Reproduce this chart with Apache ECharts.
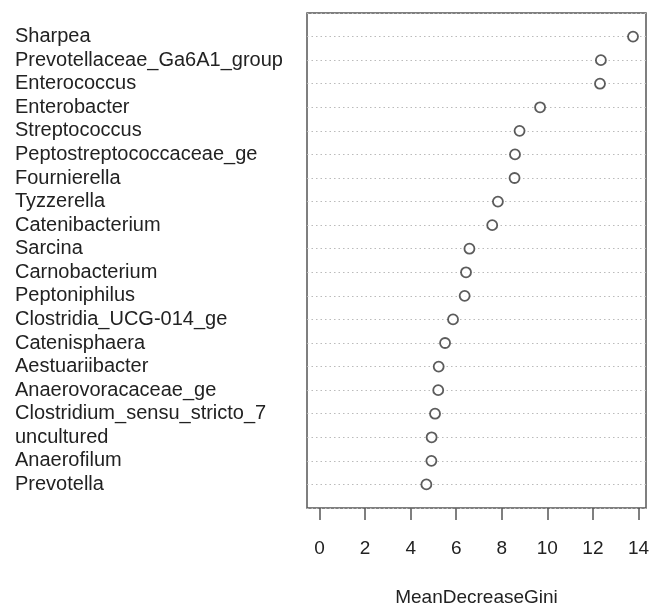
<!DOCTYPE html>
<html>
<head>
<meta charset="utf-8">
<script src="https://cdn.jsdelivr.net/npm/echarts@6/dist/echarts.min.js"></script>
<style>html,body{margin:0;padding:0;background:#fff;}#c{width:650px;height:604px;}</style>
</head>
<body>
<div id="c"></div>
<script>
const categories = [
  "Sharpea","Prevotellaceae_Ga6A1_group","Enterococcus","Enterobacter","Streptococcus",
  "Peptostreptococcaceae_ge","Fournierella","Tyzzerella","Catenibacterium","Sarcina",
  "Carnobacterium","Peptoniphilus","Clostridia_UCG-014_ge","Catenisphaera","Aestuariibacter",
  "Anaerovoracaceae_ge","Clostridium_sensu_stricto_7","uncultured","Anaerofilum","Prevotella"
];
const values = [13.76,12.35,12.31,9.68,8.78,8.58,8.56,7.83,7.58,6.58,6.43,6.37,5.86,5.51,5.23,5.21,5.07,4.92,4.91,4.69];
const xTicks = [0,2,4,6,8,10,12,14];

const rowPos = categories.map((_, i) => i + 1);
const chart = echarts.init(document.getElementById('c'), null, {renderer:'canvas'});
const font = 'Liberation Sans, Arial, sans-serif';
chart.setOption({
  animation:false,
  backgroundColor:'#fff',
  grid:{left:307, right:4, top:13, bottom:96, containLabel:false, outerBoundsMode:'none',
        show:true, borderColor:'#555', borderWidth:1.5, backgroundColor:'transparent'},
  xAxis:{
    type:'value', min:-0.55, max:14.33,
    axisLine:{show:false, onZero:false},
    splitLine:{show:false},
    axisTick:{show:true, customValues:xTicks, length:12, lineStyle:{color:'#555', width:1.5}},
    axisLabel:{customValues:xTicks, margin:31, fontSize:19, color:'#222', fontFamily:font},
    name:'MeanDecreaseGini', nameLocation:'middle', nameGap:80,
    nameTextStyle:{fontSize:19, color:'#222', fontFamily:font}
  },
  yAxis:{
    type:'value', inverse:true, min:0, max:21, interval:1,
    axisLine:{show:false, onZero:false}, axisTick:{show:false},
    splitLine:{show:true, lineStyle:{color:'#bbb', type:[1.5,3], width:1}},
    axisLabel:{
      customValues:rowPos,
      formatter:(v)=> categories[Math.round(v)-1] || '',
      align:'left', margin:292, fontSize:20, color:'#222', fontFamily:font
    }
  },
  series:[{
    type:'scatter',
    data: values.map((v,i)=>[v, rowPos[i]]),
    symbol:'circle', symbolSize:10,
    itemStyle:{color:'#fff', borderColor:'#333', borderWidth:1.8},
    silent:true
  }]
});
</script>
</body>
</html>
